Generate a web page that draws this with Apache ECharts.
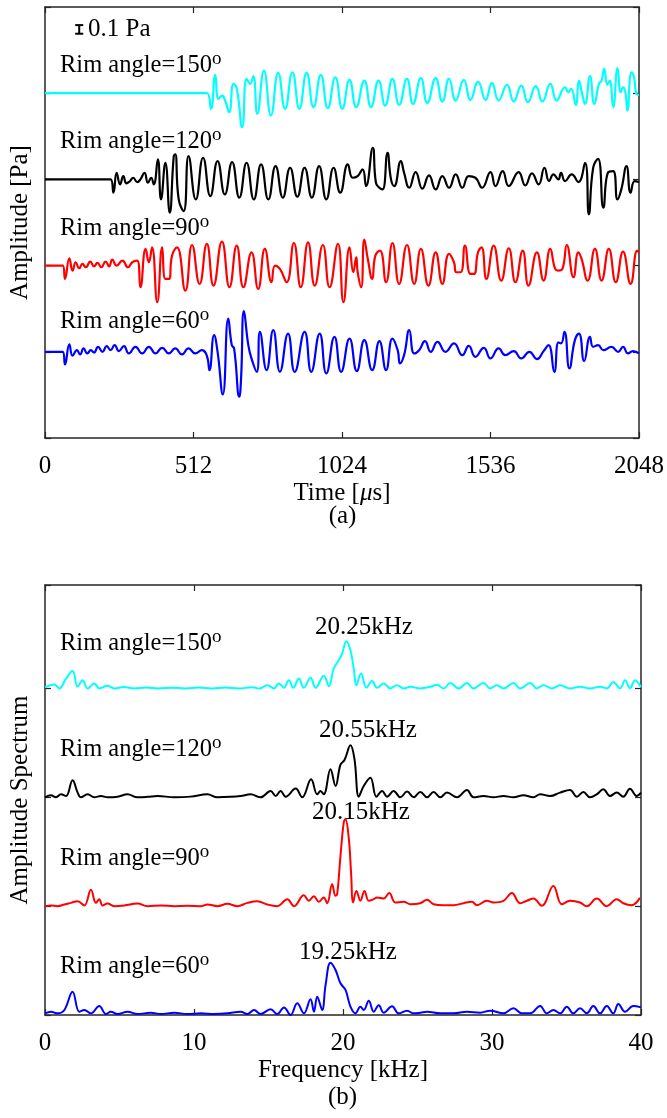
<!DOCTYPE html>
<html><head><meta charset="utf-8">
<script src="https://cdn.jsdelivr.net/npm/echarts@6/dist/echarts.min.js"></script>
<style>html,body{margin:0;padding:0;background:#fff}#c{width:667px;height:1118px}</style>
</head><body><div id="c"></div><script>
// ---------- DATA ----------
const timeTicks = [0, 512, 1024, 1536, 2048];      // µs
const freqTicks = [0, 10, 20, 30, 40];             // kHz
const rimAngles = ['150', '120', '90', '60'];
const peakLabels = ['20.25kHz', '20.55kHz', '20.15kHz', '19.25kHz'];
const timeOffsets = [4, 3, 2, 1];      // Pa, vertical stacking of the time traces
const specOffsets = [3, 2, 1, 0];      // stacking of the spectra
const scaleBar = [118, 4.69, 4.79];    // t, y from, y to (0.1 Pa)

// time signals [t µs, amplitude Pa]
const sig150 = [[0,0],[558,0],[572,-0.181],[587,0.212],[598,-0.066],[610,-0.027],[621,-0.085],[635,-0.22],[650,0.108],[661,0.058],[680,-0.394],[695,0.166],[707,0.108],[718,0.197],[732,-0.239],[755,0.262],[779,-0.259],[804,0.235],[828,-0.181],[853,0.243],[877,-0.181],[902,0.235],[926,-0.162],[951,0.212],[975,-0.174],[1001,0.185],[1025,-0.181],[1050,0.154],[1073,-0.162],[1101,0.147],[1124,-0.162],[1150,0.147],[1173,-0.143],[1198,0.166],[1221,-0.135],[1248,0.166],[1269,-0.124],[1296,0.174],[1318,-0.112],[1347,0.174],[1370,-0.097],[1393,0.166],[1416,-0.085],[1444,0.154],[1467,-0.077],[1493,0.135],[1519,-0.077],[1541,0.12],[1564,-0.085],[1593,0.097],[1616,-0.097],[1642,0.089],[1665,-0.104],[1692,0.081],[1715,-0.097],[1742,0.108],[1764,-0.085],[1793,0.069],[1804,0.012],[1814,0.05],[1830,-0.135],[1841,0.147],[1852,-0.008],[1862,-0.124],[1879,0.197],[1894,-0.124],[1910,0.108],[1919,0.147],[1928,0.282],[1939,0.097],[1947,0.147],[1959,-0.162],[1974,0.29],[1985,0.012],[1993,0.069],[2001,0.012],[2008,-0.201],[2022,0.243],[2031,0.185],[2039,-0.008],[2048,-0.02]];
const sig120 = [[0,0],[226,0],[236,-0.154],[247,0.077],[259,-0.058],[270,0.039],[281,-0.046],[293,-0.019],[304,0.019],[318,-0.031],[329,0],[343,0.077],[355,-0.039],[366,0.019],[375,-0.058],[389,0.232],[400,-0.232],[415,0.193],[430,-0.386],[444,0.27],[449,0.29],[461,-0.232],[478,-0.367],[495,0.27],[520,-0.232],[545,0.251],[570,-0.193],[595,0.212],[620,-0.174],[645,0.201],[670,-0.212],[695,0.193],[720,-0.232],[745,0.174],[770,-0.232],[795,0.154],[820,-0.212],[845,0.135],[870,-0.201],[895,0.135],[920,-0.212],[945,0.154],[970,-0.232],[995,0.135],[1018,-0.154],[1044,0.174],[1061,0.019],[1078,0.039],[1095,0.116],[1107,-0.077],[1130,0.367],[1141,-0.039],[1153,-0.097],[1164,-0.116],[1181,0.309],[1193,0],[1204,-0.077],[1227,0.212],[1238,0.077],[1256,-0.097],[1278,0.085],[1301,-0.108],[1324,0.046],[1347,-0.116],[1370,0.039],[1393,-0.097],[1416,0.058],[1439,-0.097],[1461,0.039],[1484,0.019],[1507,-0.097],[1536,0.085],[1553,-0.077],[1578,0.097],[1599,-0.077],[1633,0.085],[1656,-0.069],[1679,0.069],[1702,-0.058],[1722,0.135],[1738,-0.019],[1753,0.058],[1770,0],[1779,0.077],[1793,-0.019],[1816,0.058],[1839,-0.031],[1862,0.193],[1875,-0.405],[1890,0.135],[1907,0.239],[1925,-0.328],[1942,0.085],[1959,0.097],[1974,-0.232],[1987,-0.116],[2005,0.154],[2019,-0.154],[2033,-0.019],[2048,-0.031]];
const sig90 = [[0,0],[61,0],[69,-0.154],[84,0.085],[95,-0.058],[106,0.039],[118,-0.031],[129,0.019],[141,-0.019],[156,0.046],[169,-0.008],[181,0.031],[194,-0.019],[209,0.046],[221,-0.008],[232,0.069],[247,0],[267,0.058],[286,-0.019],[301,0.039],[318,0.058],[329,-0.251],[347,0.193],[358,0.039],[369,0.212],[387,-0.425],[404,0.212],[415,-0.154],[427,-0.154],[438,0.116],[455,0.212],[484,-0.29],[507,0.239],[533,-0.212],[558,0.251],[581,-0.232],[610,0.278],[636,-0.251],[661,0.232],[684,-0.251],[712,0.154],[735,-0.27],[758,0.193],[781,-0.193],[793,0],[810,-0.039],[833,-0.193],[858,0.262],[882,-0.251],[907,0.27],[930,-0.232],[958,0.239],[981,-0.251],[1010,0.251],[1029,-0.425],[1050,0.212],[1063,-0.077],[1073,0.097],[1078,-0.077],[1090,-0.251],[1101,0.301],[1113,0.077],[1128,-0.154],[1139,0.116],[1155,0.174],[1176,-0.193],[1198,0.262],[1221,-0.212],[1248,0.239],[1273,-0.212],[1296,0.193],[1322,-0.232],[1347,0.154],[1370,-0.212],[1393,0.135],[1410,0.039],[1418,-0.077],[1433,-0.077],[1448,0.232],[1467,-0.097],[1479,-0.097],[1493,0.154],[1505,0.212],[1522,-0.154],[1547,0.232],[1573,-0.174],[1599,0.201],[1622,-0.193],[1647,0.174],[1667,-0.232],[1696,0.154],[1719,-0.174],[1742,0.193],[1759,-0.039],[1770,-0.058],[1784,-0.039],[1799,0.239],[1822,-0.135],[1839,0.154],[1850,0.077],[1871,-0.174],[1896,0.193],[1919,-0.174],[1944,0.193],[1968,-0.193],[1993,0.162],[2019,-0.212],[2042,0.174],[2048,0.15]];
const sig60 = [[0,0],[61,0],[69,-0.147],[84,0.085],[95,-0.046],[110,0.019],[121,-0.031],[133,0.039],[146,-0.019],[158,0.019],[169,-0.008],[183,0.058],[198,0],[213,0.066],[226,0.019],[240,0.077],[255,0.008],[272,0.066],[289,-0.019],[312,0.058],[335,-0.019],[358,0.058],[381,-0.019],[404,0.046],[427,-0.019],[449,0.039],[472,-0.031],[495,0.039],[518,-0.019],[541,0.019],[558,-0.046],[567,-0.212],[583,0.193],[595,0],[613,-0.494],[632,0.386],[644,0.077],[652,0.039],[670,-0.521],[676,-0.309],[686,0.471],[701,0.077],[712,-0.077],[730,-0.232],[741,0.232],[764,-0.212],[787,0.251],[810,-0.232],[838,0.212],[861,-0.232],[895,0.232],[918,-0.232],[947,0.212],[970,-0.251],[998,0.174],[1021,-0.232],[1050,0.154],[1075,-0.224],[1101,0.135],[1128,-0.212],[1153,0.124],[1176,-0.212],[1198,0.154],[1216,0.019],[1224,-0.135],[1238,-0.039],[1256,0.251],[1273,-0.019],[1290,0.019],[1310,0.124],[1330,0],[1353,0.116],[1381,0],[1410,0.097],[1439,-0.039],[1461,0.069],[1484,-0.058],[1513,0.046],[1536,-0.077],[1564,0.039],[1587,-0.039],[1616,0.008],[1642,-0.077],[1670,0],[1696,-0.085],[1719,0.008],[1736,0.077],[1756,-0.232],[1770,0.108],[1779,0.097],[1791,0.232],[1808,-0.193],[1827,0.135],[1841,0.212],[1859,-0.108],[1879,0.174],[1890,0.058],[1907,0.077],[1925,0.019],[1953,0.058],[1976,0],[1993,0.058],[2010,-0.019],[2027,0.008],[2048,-0.019]];

// amplitude spectra [f kHz, amplitude]
const spec150 = [[0,0.01],[0.63,0.037],[0.96,0],[1.41,0.09],[1.85,0.16],[2.19,0.015],[2.52,0.076],[2.86,0],[3.31,0.046],[3.64,0],[4.2,0.024],[4.65,0],[5.3,0.012],[6.0,0],[6.8,0.008],[7.6,0],[8.5,0.006],[9.4,0],[10.3,0.008],[11.2,0],[12.1,0.008],[13.0,0],[13.9,0.01],[14.4,0],[14.92,0.03],[15.37,0],[15.7,0.046],[16.03,0.006],[16.37,0.076],[16.66,0.006],[17.04,0.092],[17.37,0.006],[17.82,0.098],[18.16,0.006],[18.71,0.116],[19.05,0.021],[19.38,0.183],[19.72,0.26],[19.94,0.32],[20.23,0.434],[20.5,0.35],[20.72,0.183],[20.9,0.03],[21.21,0.138],[21.57,0.006],[21.95,0.067],[22.29,0.006],[22.73,0.046],[23.18,0],[23.63,0.03],[24.07,0],[24.52,0.015],[25.19,0],[25.86,0.015],[26.31,0.034],[26.75,0],[27.2,0.049],[27.76,0],[28.32,0.049],[28.76,0],[29.43,0.049],[29.88,0],[30.33,0.03],[30.77,0],[31.44,0.049],[31.89,0],[32.56,0.049],[33.01,0],[33.45,0.03],[34.01,0],[34.57,0.03],[35.24,0],[35.91,0.015],[36.58,0],[37.25,0.015],[37.7,0],[38.14,0.06],[38.59,0],[38.93,0.076],[39.26,0],[39.6,0.076],[40,0.01]];
const spec120 = [[0,0],[0.4,0.018],[0.74,0],[1.07,0.027],[1.41,0.012],[1.85,0.156],[2.19,0.043],[2.41,0],[2.86,0.027],[3.31,0],[3.75,0.012],[4.2,0],[4.87,0.005],[5.54,0.027],[6.21,0],[6.88,0.004],[7.55,0.012],[8.67,0],[9.78,0.006],[10.9,0.027],[11.57,0],[12.46,0.004],[13.13,0.012],[13.8,0.027],[14.47,0],[15.14,0.058],[15.48,0.012],[15.81,0.058],[16.15,0.006],[16.82,0.08],[17.26,0],[17.86,0.165],[18.27,0.027],[18.49,0.058],[18.71,0.027],[19.16,0.257],[19.5,0.104],[19.83,0.3],[20.1,0.342],[20.5,0.477],[20.77,0.35],[21.06,0.006],[21.39,0.104],[21.84,0.18],[22.24,0.006],[22.62,0.058],[22.96,0.006],[23.4,0.058],[23.85,0],[24.3,0.052],[24.74,0],[25.19,0.049],[25.64,0],[26.08,0.049],[26.53,0],[26.98,0.043],[27.65,0],[28.32,0.067],[28.76,0],[29.43,0.012],[30.1,0],[30.77,0.012],[31.44,0],[32.11,0.018],[32.78,0],[33.23,0.027],[33.9,0.012],[34.57,0.043],[35.24,0.067],[35.69,0.006],[36.13,0.049],[36.58,0],[37.03,0.027],[37.47,0.073],[37.92,0.012],[38.37,0.043],[38.81,0.006],[39.26,0.079],[39.71,0.012],[40,0.043]];
const spec90 = [[0,0],[0.4,0.006],[0.85,0],[1.3,0.015],[1.74,0.03],[2.19,0.046],[2.64,0.006],[3.08,0.15],[3.42,0.03],[3.64,0.064],[3.86,0.006],[4.2,0.024],[4.65,0],[5.32,0.006],[6.21,0.024],[6.88,0],[7.77,0.006],[8.67,0],[9.56,0.003],[10.45,0],[10.9,0.015],[11.57,0],[12.24,0.021],[12.91,0],[13.58,0.03],[14.25,0.046],[14.92,0.015],[15.59,0],[16.26,0.064],[16.71,0],[17.37,0.1],[17.71,0.05],[18.04,0.09],[18.38,0.04],[18.71,0.08],[18.94,0.027],[19.27,0.2],[19.5,0.095],[19.61,0.11],[19.83,0.46],[20.05,0.77],[20.16,0.8],[20.39,0.62],[20.54,0.31],[20.68,0.034],[20.9,0.14],[21.17,0.05],[21.44,0.14],[21.73,0.049],[22.06,0.064],[22.29,0.08],[22.73,0.07],[23.1,0.12],[23.51,0.034],[24.07,0.04],[24.52,0.018],[25.19,0.027],[25.64,0.058],[26.08,0.018],[26.75,0.009],[27.42,0.009],[28.09,0.027],[28.65,0.04],[28.99,0.009],[29.66,0.049],[30.1,0.034],[30.77,0.049],[31.33,0.12],[31.89,0.027],[32.34,0.049],[32.78,0.07],[33.34,0.003],[34.12,0.186],[34.68,0.018],[35.24,0.049],[35.91,0.034],[36.36,0],[37.03,0.07],[37.7,0],[38.37,0.064],[38.81,0.027],[39.37,0.009],[39.93,0.076]];
const spec60 = [[0,0.015],[0.4,0.03],[0.85,0.015],[1.3,0.046],[1.85,0.214],[2.3,0.03],[2.64,0.046],[3.08,0.015],[3.64,0.083],[4.09,0.009],[4.42,0.03],[4.87,0.009],[5.54,0.03],[6.21,0.009],[7.1,0.021],[7.77,0.009],[8.67,0.021],[9.56,0.009],[10.45,0.015],[11.35,0.009],[12.24,0.015],[13.13,0.03],[13.58,0.009],[14.03,0.046],[14.47,0.009],[15.14,0.052],[15.59,0.009],[16.04,0.07],[16.48,0],[16.93,0.107],[17.38,0.015],[17.82,0.144],[18.05,0.03],[18.27,0.168],[18.6,0.046],[18.83,0.275],[19.16,0.48],[19.5,0.413],[19.83,0.291],[20.17,0.23],[20.5,0.076],[20.83,0.015],[21.17,0.076],[21.39,0.046],[21.73,0.131],[22.06,0.03],[22.4,0.09],[22.73,0.021],[23.29,0.08],[23.74,0.015],[24.3,0.04],[24.74,0.015],[25.19,0.021],[25.64,0.03],[26.53,0.015],[27.42,0.015],[28.32,0.03],[29.21,0.021],[29.88,0.04],[30.77,0.015],[31.44,0.061],[32.0,0.015],[32.56,0.015],[33.23,0.083],[33.68,0.015],[34.12,0.046],[34.57,0.015],[35.02,0.076],[35.46,0.015],[35.91,0.061],[36.36,0.015],[36.8,0.083],[37.25,0.015],[37.7,0.083],[38.14,0.015],[38.48,0.101],[38.93,0.03],[39.48,0.083],[40,0.07]];

const signals = [sig150, sig120, sig90, sig60];
const spectra = [spec150, spec120, spec90, spec60];

// ---------- STYLE ----------
const FONT = '"Liberation Serif","Times New Roman",serif';
const COLORS = ['#00FFFF', '#000000', '#FF0000', '#0000FF'];
const AXC = '#262626';

const chart = echarts.init(document.getElementById('c'), null, {renderer: 'canvas'});

function xAx(grid, ticks, pos, name) {
  const a = {
    gridIndex: grid, type: 'value', position: pos,
    min: ticks[0], max: ticks[ticks.length - 1], interval: ticks[1] - ticks[0],
    axisLine: {show: true, onZero: false, lineStyle: {color: AXC, width: 1.5}},
    axisTick: {show: true, inside: true, length: 6, lineStyle: {color: AXC, width: 1.2}},
    axisLabel: {show: pos === 'bottom', fontFamily: FONT, fontSize: 25, color: '#000', margin: 16,
                formatter: v => String(v)},
    splitLine: {show: false}
  };
  if (name) {
    a.name = name; a.nameLocation = 'middle'; a.nameGap = 43;
    a.nameTextStyle = {fontFamily: FONT, fontSize: 25, color: '#000',
      rich: {i: {fontFamily: FONT, fontSize: 25, fontStyle: 'italic', color: '#000'}}};
  }
  return a;
}
function yAx(grid, max, pos, name) {
  const a = {
    gridIndex: grid, type: 'value', position: pos, min: 0, max: max, interval: 1,
    axisLine: {show: true, onZero: false, lineStyle: {color: AXC, width: 1.5}},
    axisTick: {show: true, inside: true, length: 6, lineStyle: {color: AXC, width: 1.2}},
    axisLabel: {show: false}, splitLine: {show: false}
  };
  if (name) {
    a.name = name; a.nameLocation = 'middle'; a.nameGap = 12;
    a.nameTextStyle = {fontFamily: FONT, fontSize: 25, color: '#000'};
  }
  return a;
}

const series = [];
signals.forEach((s, i) => series.push({
  type: 'line', xAxisIndex: 0, yAxisIndex: 0, showSymbol: false, smooth: 0.5,
  lineStyle: {color: COLORS[i], width: 2.2}, itemStyle: {color: COLORS[i]},
  data: s.map(p => [p[0], p[1] + timeOffsets[i]]), z: 3 + i
}));
spectra.forEach((s, i) => series.push({
  type: 'line', xAxisIndex: 2, yAxisIndex: 2, showSymbol: false, smooth: 0.4,
  lineStyle: {color: COLORS[i], width: 2}, itemStyle: {color: COLORS[i]},
  data: s.map(p => [p[0], p[1] + specOffsets[i]]), z: 3 + i
}));
// scale bar (0.1 Pa) drawn in data units
series.push({
  type: 'custom', xAxisIndex: 0, yAxisIndex: 0, data: [scaleBar], z: 10,
  renderItem(params, api) {
    const p0 = api.coord([api.value(0), api.value(1)]);
    const p1 = api.coord([api.value(0), api.value(2)]);
    const w = 4, st = {stroke: '#000', lineWidth: 2};
    return {type: 'group', children: [
      {type: 'line', shape: {x1: p0[0], y1: p0[1], x2: p1[0], y2: p1[1]}, style: st},
      {type: 'line', shape: {x1: p0[0] - w, y1: p0[1], x2: p0[0] + w, y2: p0[1]}, style: st},
      {type: 'line', shape: {x1: p1[0] - w, y1: p1[1], x2: p1[0] + w, y2: p1[1]}, style: st}
    ]};
  }
});

const rich = {m: {fontFamily: FONT, fontSize: 24.5, lineHeight: 32, fill: '#000', color: '#000'},
              s: {fontFamily: FONT, fontSize: 19, lineHeight: 19, verticalAlign: 'top', fill: '#000', color: '#000'}};
function rimText(label, x, y) {
  return {type: 'text', x: x, y: y, z: 20,
    style: {text: '{m|Rim angle=' + label + '}{s|o}', rich: rich, align: 'left', verticalAlign: 'middle', fill: '#000'}};
}
function plainText(t, x, y, align) {
  return {type: 'text', x: x, y: y, z: 20,
    style: {text: t, font: '25px ' + FONT, fill: '#000', align: align || 'left', verticalAlign: 'middle'}};
}
const topRimY = [65.5, 142, 228.5, 322];
const botRimY = [643.5, 750, 858.5, 967];
const peakPos = [[315, 627], [319, 730], [312, 812], [299, 952]];
const graphics = [];
rimAngles.forEach((a, i) => { graphics.push(rimText(a, 60, topRimY[i])); graphics.push(rimText(a, 60, botRimY[i])); });
peakLabels.forEach((t, i) => graphics.push(plainText(t, peakPos[i][0], peakPos[i][1])));
graphics.push(plainText('0.1 Pa', 88, 29));
graphics.push(plainText('(a)', 342.5, 516, 'center'));
graphics.push(plainText('(b)', 342.5, 1097, 'center'));

chart.setOption({
  animation: false,
  backgroundColor: '#fff',
  grid: [
    {left: 44, top: 7, width: 597, height: 431, containLabel: false},
    {left: 44, top: 585, width: 597, height: 430, containLabel: false}
  ],
  xAxis: [
    xAx(0, timeTicks, 'bottom', 'Time [{i|μ}s]'), xAx(0, timeTicks, 'top'),
    xAx(1, freqTicks, 'bottom', 'Frequency [kHz]'), xAx(1, freqTicks, 'top')
  ],
  yAxis: [
    yAx(0, 5, 'left', 'Amplitude [Pa]'), yAx(0, 5, 'right'),
    yAx(1, 3.95, 'left', 'Amplitude Spectrum'), yAx(1, 3.95, 'right')
  ],
  series: series,
  graphic: graphics
});
</script></body></html>
